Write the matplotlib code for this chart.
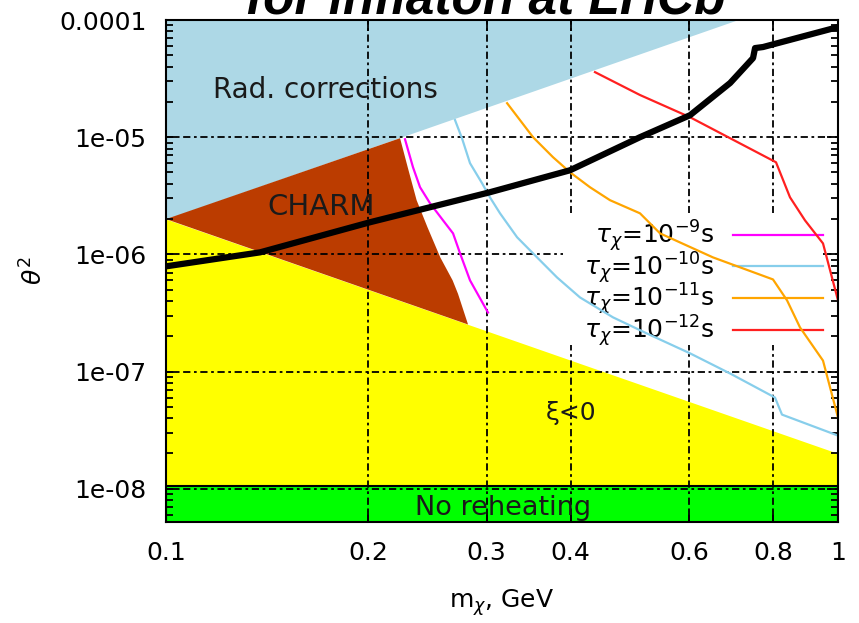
import matplotlib
matplotlib.use("Agg")
from matplotlib import pyplot as plt
from matplotlib.patches import Rectangle
from matplotlib.ticker import FixedLocator, NullLocator, NullFormatter, LogLocator

# axis ranges
m_lo, m_hi = 0.1, 1.0
th_lo, th_hi = 5.2e-9, 1e-4

# excluded regions (boundaries as straight lines in log-log)
rad_m = [0.1, 1.0]
rad_theta2 = [2e-6, 2e-4]
xi_m = [0.1, 1.0]
xi_theta2 = [2e-6, 2e-8]
noreheat_theta2 = 1.05e-8

charm_m = [0.1, 0.223, 0.229, 0.236, 0.245, 0.256, 0.267, 0.272, 0.2815]
charm_theta2 = [2e-6, 9.8e-6, 5.5e-6, 2.9e-6, 1.7e-6, 9.4e-7, 6.0e-7, 4.6e-7, 2.52e-7]

# inflaton line
infl_m = [0.1, 0.138, 0.2012, 0.3034, 0.3992, 0.5074, 0.6023, 0.691, 0.7474, 0.7526, 0.7735, 1.0]
infl_theta2 = [7.9e-7, 1.04e-6, 1.88e-6, 3.39e-6, 5.22e-6, 1.0e-5, 1.54e-5, 2.9e-5, 4.73e-5, 5.76e-5, 5.88e-5, 8.7e-5]

# lifetime contours
tau9_m = [0.2268, 0.2331, 0.2388, 0.2471, 0.2584, 0.2674, 0.2739, 0.2834, 0.3014]
tau9_theta2 = [9.6e-6, 5.54e-6, 3.74e-6, 2.73e-6, 1.95e-6, 1.51e-6, 1.02e-6, 6.0e-7, 3.19e-7]

tau10_m = [0.2692, 0.2757, 0.2834, 0.2953, 0.3034, 0.3141, 0.333, 0.3566, 0.3818,
           0.4131, 0.4626, 0.5198, 0.6023, 0.691, 0.8058, 0.8254, 1.0]
tau10_theta2 = [1.4e-5, 9.8e-6, 6.0e-6, 4.05e-6, 3.07e-6, 2.24e-6, 1.4e-6, 9.42e-7, 6.36e-7,
                4.29e-7, 2.9e-7, 2.11e-7, 1.43e-7, 9.62e-8, 6.0e-8, 4.29e-8, 2.84e-8]

tau11_m = [0.3218, 0.3517, 0.3766, 0.3992, 0.4275, 0.4578, 0.5074, 0.5435, 0.6516,
           0.8003, 0.8398, 0.8779, 0.9499, 1.0]
tau11_theta2 = [1.95e-5, 1.0e-5, 6.75e-6, 5.02e-6, 3.74e-6, 2.9e-6, 2.24e-6, 1.51e-6, 9.42e-7,
                6.11e-7, 4.05e-7, 2.38e-7, 1.24e-7, 4.05e-8]

tau12_m = [0.4349, 0.5074, 0.6023, 0.8086, 0.8483, 0.8931, 0.9499, 1.0]
tau12_theta2 = [3.59e-5, 2.29e-5, 1.48e-5, 6.11e-6, 3.07e-6, 1.95e-6, 1.24e-6, 4.05e-7]

x_ticks = [0.1, 0.2, 0.3, 0.4, 0.6, 0.8, 1.0]
x_ticklabels = ["0.1", "0.2", "0.3", "0.4", "0.6", "0.8", "1"]
y_ticks = [1e-8, 1e-7, 1e-6, 1e-5, 1e-4]
y_ticklabels = ["1e-08", "1e-07", "1e-06", "1e-05", "0.0001"]

plt.rcParams["font.family"] = "DejaVu Sans"

fig = plt.figure(figsize=(8.59, 6.23), dpi=100)
ax = fig.add_axes([166 / 859, 1 - 522 / 623, 672 / 859, 502 / 623])
ax.set_xscale("log")
ax.set_yscale("log")
ax.set_xlim(m_lo, m_hi)
ax.set_ylim(th_lo, th_hi)

# filled regions
ax.fill_between(rad_m, rad_theta2, 1e-3, color="#add8e6", lw=0, zorder=1)
ax.fill_between(xi_m, 1e-10, xi_theta2, color="#ffff00", lw=0, zorder=1)
ax.fill(charm_m, charm_theta2, color="#bb3c00", lw=0, zorder=1.1)
ax.fill_between(xi_m, 1e-10, noreheat_theta2, facecolor="#00ff00", edgecolor="black",
                lw=1.5, zorder=1.2)

# grid above fills, below curves
ax.set_axisbelow("line")
ax.xaxis.set_major_locator(FixedLocator(x_ticks))
ax.xaxis.set_minor_locator(NullLocator())
ax.set_xticklabels(x_ticklabels)
ax.yaxis.set_major_locator(FixedLocator(y_ticks))
ax.set_yticklabels(y_ticklabels)
ax.yaxis.set_minor_locator(LogLocator(base=10, subs=range(2, 10)))
ax.yaxis.set_minor_formatter(NullFormatter())
ax.grid(True, which="major", color="black", lw=1.3, linestyle=(0, (4, 2, 1.5, 2)))

ax.tick_params(which="both", direction="in", top=True, right=True, labelsize=18, pad=14,
               width=1.3, colors="black")
ax.tick_params(which="major", length=8)
ax.tick_params(which="minor", length=5)
for s in ax.spines.values():
    s.set_linewidth(1.5)
    s.set_zorder(4)

# key area blanks the grid behind it
ax.add_patch(Rectangle((0.5908, 0.3526), 0.387, 0.2629, transform=ax.transAxes,
                       facecolor="white", lw=0, zorder=2))

lw_c = 1.6
l9, = ax.plot(tau9_m, tau9_theta2, color="#ff00ff", lw=lw_c, zorder=3,
              label=r"$\tau_\chi$=10$^{-9}$s")
l10, = ax.plot(tau10_m, tau10_theta2, color="#87ceeb", lw=lw_c, zorder=3,
               label=r"$\tau_\chi$=10$^{-10}$s")
l11, = ax.plot(tau11_m, tau11_theta2, color="#ffa500", lw=lw_c, zorder=3,
               label=r"$\tau_\chi$=10$^{-11}$s")
l12, = ax.plot(tau12_m, tau12_theta2, color="#ff2020", lw=lw_c, zorder=3,
               label=r"$\tau_\chi$=10$^{-12}$s")
ax.plot(infl_m, infl_theta2, color="black", lw=4.5, zorder=3.5, solid_capstyle="butt")

leg = ax.legend(handles=[l9, l10, l11, l12], loc="upper right", bbox_to_anchor=(0.985, 0.6155),
                borderaxespad=0, markerfirst=False, fontsize=18, handlelength=3.6,
                handletextpad=0.72, labelspacing=-0.17, borderpad=0.2, frameon=False)
leg.set_zorder(2.5)

# region labels
ax.text(0.1724, 2.52e-5, "Rad. corrections", fontsize=20, ha="center", va="center", color="#1a1a1a", zorder=3)
ax.text(0.170, 2.52e-6, "CHARM", fontsize=21, ha="center", va="center", color="#1a1a1a", zorder=3)
ax.text(0.40, 4.47e-8, "ξ<0", fontsize=18, ha="center", va="center", color="#1a1a1a", zorder=3)
ax.text(0.3176, 6.9e-9, "No reheating", fontsize=19.5, ha="center", va="center", color="#1a1a1a", zorder=3)

ax.set_xlabel(r"m$_\chi$, GeV", fontsize=18, labelpad=16)
ax.set_ylabel(r"$\theta^2$", fontsize=18, labelpad=8)

fig.text(0.565, 1 - 13 / 623, "for inflaton at LHCb", fontsize=37, fontweight="bold",
         fontstyle="italic", family="Liberation Sans", ha="center", va="baseline")

fig.savefig("out.png", dpi=100)
